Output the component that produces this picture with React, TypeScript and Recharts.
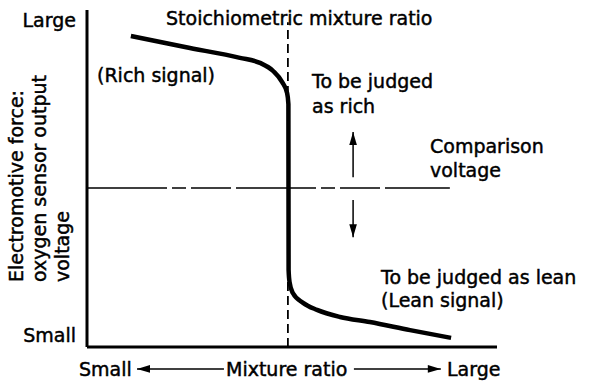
import { LineChart, Line, XAxis, YAxis, ReferenceLine, ReferenceDot } from "recharts";

// Mixture ratio (0 = small, 100 = large) and sensor voltage (0 = small, 100 = large)
const mixtureRatio = [
  10.7, 23.9, 37.3, 42.2, 45.4, 47.6, 48.8, 49.12, 49.17, 49.4, 50.2, 52.7, 56.1,
  61.7, 69.0, 78.8, 88.8,
];
const sensorVoltage = [
  92.3, 89.0, 85.8, 84.3, 81.9, 78.6, 75.4, 72.1, 22.9, 19.3, 16.0, 13.1, 11.0,
  8.9, 7.4, 5.0, 2.7,
];

const stoichRatio = 49;
const comparisonVoltage = 47.2;
const stoichLineTop = 96.4;
const comparisonLineEnd = 88.5;

// arrow annotations: [x, from, to]
const richArrow = [64.9, 50.4, 63.8];
const leanArrow = [64.9, 43.6, 32.6];
const bottomArrowY = -6.5;
const smallArrow = [33.4, 12.2];
const largeArrow = [65.1, 86.3];

const curve = mixtureRatio.map((x, i) => ({ x, v: sensorVoltage[i] }));

const FONT = "'DejaVu Sans', sans-serif";

type HeadProps = { cx?: number; cy?: number; dir: "up" | "down" | "left" | "right" };

function ArrowHead({ cx = 0, cy = 0, dir }: HeadProps) {
  const len = 13;
  const half = 3.8;
  let pts = "";
  if (dir === "up") pts = `${cx},${cy} ${cx - half},${cy + len} ${cx + half},${cy + len}`;
  if (dir === "down") pts = `${cx},${cy} ${cx - half},${cy - len} ${cx + half},${cy - len}`;
  if (dir === "left") pts = `${cx},${cy} ${cx + len},${cy - half} ${cx + len},${cy + half}`;
  if (dir === "right") pts = `${cx},${cy} ${cx - len},${cy - half} ${cx - len},${cy + half}`;
  return <polygon points={pts} fill="#000" />;
}

export default function App() {
  return (
    <div style={{ position: "absolute", left: 0, top: 0, width: 608, height: 388, background: "#fff" }}>
      <LineChart
        width={608}
        height={388}
        data={curve}
        margin={{ top: 10, right: 111, bottom: 41, left: 87 }}
      >
        <XAxis type="number" dataKey="x" domain={[0, 100]} hide />
        <YAxis type="number" domain={[0, 100]} hide />

        {/* comparison voltage */}
        <ReferenceLine
          segment={[
            { x: 0, y: comparisonVoltage },
            { x: comparisonLineEnd, y: comparisonVoltage },
          ]}
          stroke="#000"
          strokeWidth={1.4}
          strokeDasharray="80 5 14 5 40 5"
        />
        {/* stoichiometric ratio */}
        <ReferenceLine
          segment={[
            { x: stoichRatio, y: 0 },
            { x: stoichRatio, y: stoichLineTop },
          ]}
          stroke="#000"
          strokeWidth={1.8}
          strokeDasharray="9 5"
        />

        {/* axes */}
        <ReferenceLine x={0} stroke="#000" strokeWidth={3} />
        <ReferenceLine y={0} stroke="#000" strokeWidth={3} />

        {/* judged arrows */}
        <ReferenceLine
          segment={[
            { x: richArrow[0], y: richArrow[1] },
            { x: richArrow[0], y: richArrow[2] },
          ]}
          stroke="#000"
          strokeWidth={1.5}
        />
        <ReferenceDot
          x={richArrow[0]}
          y={richArrow[2]}
          r={0}
          shape={(p: any) => <ArrowHead cx={p.cx} cy={p.cy} dir="up" />}
        />
        <ReferenceLine
          segment={[
            { x: leanArrow[0], y: leanArrow[1] },
            { x: leanArrow[0], y: leanArrow[2] },
          ]}
          stroke="#000"
          strokeWidth={1.5}
        />
        <ReferenceDot
          x={leanArrow[0]}
          y={leanArrow[2]}
          r={0}
          shape={(p: any) => <ArrowHead cx={p.cx} cy={p.cy} dir="down" />}
        />

        {/* mixture ratio arrows below the axis */}
        <ReferenceLine
          segment={[
            { x: smallArrow[0], y: bottomArrowY },
            { x: smallArrow[1], y: bottomArrowY },
          ]}
          stroke="#000"
          strokeWidth={1.5}
          ifOverflow="visible"
        />
        <ReferenceDot
          x={smallArrow[1]}
          y={bottomArrowY}
          r={0}
          ifOverflow="visible"
          shape={(p: any) => <ArrowHead cx={p.cx} cy={p.cy} dir="left" />}
        />
        <ReferenceLine
          segment={[
            { x: largeArrow[0], y: bottomArrowY },
            { x: largeArrow[1], y: bottomArrowY },
          ]}
          stroke="#000"
          strokeWidth={1.5}
          ifOverflow="visible"
        />
        <ReferenceDot
          x={largeArrow[1]}
          y={bottomArrowY}
          r={0}
          ifOverflow="visible"
          shape={(p: any) => <ArrowHead cx={p.cx} cy={p.cy} dir="right" />}
        />

        <Line
          type="monotone"
          dataKey="v"
          stroke="#000"
          strokeWidth={4.5}
          dot={false}
          isAnimationActive={false}
        />
      </LineChart>

      <svg
        width={608}
        height={388}
        style={{ position: "absolute", left: 0, top: 0, pointerEvents: "none" }}
        fontFamily={FONT}
        fontSize={19}
        fill="#000"
        stroke="#000"
        strokeWidth={0.45}
      >
        <text x={76} y={27} textAnchor="end">Large</text>
        <text x={76} y={342} textAnchor="end">Small</text>
        <text x={166} y={25}>Stoichiometric mixture ratio</text>
        <text x={97} y={82}>(Rich signal)</text>
        <text x={312} y={88}>To be judged</text>
        <text x={312} y={113}>as rich</text>
        <text x={430} y={153}>Comparison</text>
        <text x={430} y={177}>voltage</text>
        <text x={381} y={284}>To be judged as lean</text>
        <text x={381} y={307}>(Lean signal)</text>
        <text x={79} y={376}>Small</text>
        <text x={226} y={376}>Mixture ratio</text>
        <text x={447} y={376}>Large</text>
        <text x={23} y={282} transform="rotate(-90 23 282)">Electromotive force:</text>
        <text x={46} y={282} transform="rotate(-90 46 282)">oxygen sensor output</text>
        <text x={69} y={282} transform="rotate(-90 69 282)">voltage</text>
      </svg>
    </div>
  );
}
